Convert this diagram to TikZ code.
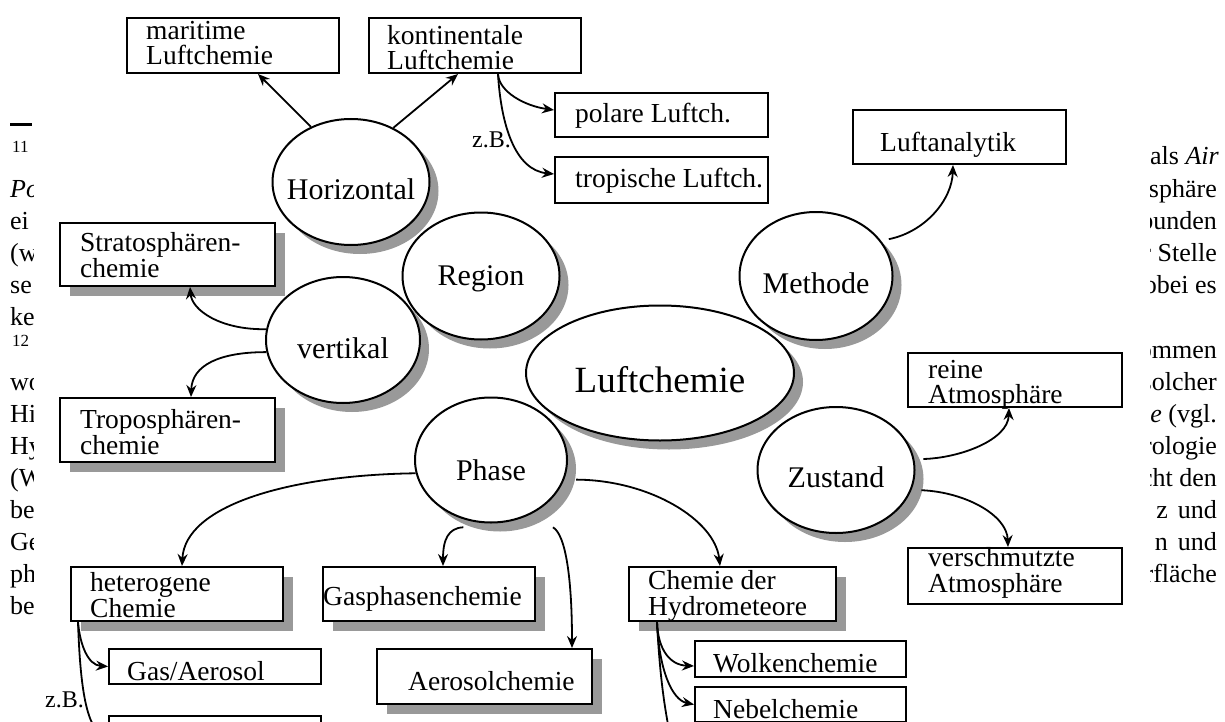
\documentclass[tikz,border=0pt]{standalone}
\usepackage{fontspec}
\setmainfont{Liberation Serif}
\usetikzlibrary{shapes.geometric,shadows,arrows.meta}
\definecolor{shd}{RGB}{153,153,153}
\newcommand\ellt[2]{\raisebox{-#1pt}[0pt][0pt]{\makebox[0pt]{#2}}}
\newcommand\twol[3]{\vtop{\baselineskip=#1pt\lineskiplimit=-100pt\lineskip=0pt\hbox{#2}\hbox{#3}}}
\begin{document}
\begin{tikzpicture}[x=1pt,y=-1pt,
  ell/.style={ellipse, draw, line width=2pt, fill=white, inner sep=0pt,
    font=\fontsize{30}{36}\selectfont,
    drop shadow={shadow xshift=9pt, shadow yshift=-9pt, fill=shd, opacity=1}},
  rbox/.style={rectangle, draw, line width=2pt, fill=white, inner sep=0pt, anchor=north west},
  sbox/.style={rbox, drop shadow={shadow xshift=10pt, shadow yshift=-10pt, fill=shd, opacity=1}},
  btxt/.style={inner sep=0pt, anchor=base west, font=\fontsize{27.5}{24}\selectfont},
  ptxt/.style={inner sep=0pt, font=\fontsize{26}{32}\selectfont},
  smtxt/.style={inner sep=0pt, anchor=base west, font=\fontsize{17}{20}\selectfont},
  conn/.style={line width=1.8pt, -{Stealth[length=12pt,width=10pt,inset=4pt]}},
  lbl/.style={inner sep=0pt, anchor=base west, font=\fontsize{24}{28}\selectfont},
]
\useasboundingbox (0,0) rectangle (1225,722);
\clip (0,0) rectangle (1225,722);
\fill[white] (0,0) rectangle (1225,722);

% page text fragments (left)
\begin{scope}
\clip (0,0) rectangle (33,722);
\draw[line width=3pt] (10,125) -- (32,125);
\node[smtxt] (fn11) at (12,153) {11};
\node[smtxt] (fn12) at (12,346) {12};
\node[ptxt,anchor=base west] (l0) at (10,197) {\textit{Po}};
\node[ptxt,anchor=base west] (l1) at (10,229) {ei};
\node[ptxt,anchor=base west] (l2) at (10,261) {(w};
\node[ptxt,anchor=base west] (l3) at (10,293) {se};
\node[ptxt,anchor=base west] (l4) at (10,325) {ke};
\node[ptxt,anchor=base west] (l6) at (10,390) {wo};
\node[ptxt,anchor=base west] (l7) at (10,422) {Hi};
\node[ptxt,anchor=base west] (l8) at (10,454) {Hy};
\node[ptxt,anchor=base west] (l9) at (10,486) {(W};
\node[ptxt,anchor=base west] (l10) at (10,518) {be};
\node[ptxt,anchor=base west] (l11) at (10,550) {Ge};
\node[ptxt,anchor=base west] (l12) at (10,582) {ph};
\node[ptxt,anchor=base west] (l13) at (10,614) {be};
\end{scope}
% page text fragments (right)
\begin{scope}
\clip (1150,0) rectangle (1225,722);
\node[ptxt,anchor=base east] (r0) at (1219,165) {als \textit{Air}};
\node[ptxt,anchor=base east] (r1) at (1217,197) {osphäre};
\node[ptxt,anchor=base east] (r2) at (1217,229) {bunden};
\node[ptxt,anchor=base east] (r3) at (1217,261) {r Stelle};
\node[ptxt,anchor=base east] (r4) at (1217,293) {obei es};
\node[ptxt,anchor=base east] (r5) at (1217,358) {ommen};
\node[ptxt,anchor=base east] (r6) at (1217,390) {solcher};
\node[ptxt,anchor=base east] (r7) at (1217,422) {\textit{ie} (vgl.};
\node[ptxt,anchor=base east] (r8) at (1217,454) {rologie};
\node[ptxt,anchor=base east] (r9) at (1217,486) {cht den};
\node[ptxt,anchor=base east] (r10) at (1217,518) {z\hspace{10pt}und};
\node[ptxt,anchor=base east] (r11) at (1217,550) {n\hspace{10pt}und};
\node[ptxt,anchor=base east] (r12) at (1217,582) {rfläche};
\end{scope}

% ellipses
\node[ell, minimum width=157pt, minimum height=126pt] (horiz) at (351,182) {\ellt{18}{Horizontal}};
\node[ell, minimum width=157pt, minimum height=127pt] (region) at (481,276) {\ellt{9.5}{Region}};
\node[ell, minimum width=154pt, minimum height=126pt] (vert) at (343,340) {\ellt{18}{vertikal}};
\node[ell, minimum width=153pt, minimum height=128pt] (meth) at (816,276) {\ellt{17}{Methode}};
\node[ell, minimum width=268pt, minimum height=135pt, font=\fontsize{37}{44}\selectfont] (luft) at (660,373) {\ellt{19}{Luftchemie}};
\node[ell, minimum width=152pt, minimum height=125pt] (phase) at (491,460) {\ellt{20}{Phase}};
\node[ell, minimum width=157pt, minimum height=126pt] (zust) at (836,470) {\ellt{17}{Zustand}};

% boxes without shadow
\node[rbox, minimum width=212pt, minimum height=55pt] (mar) at (126,17) {};
\node[rbox, minimum width=212pt, minimum height=55pt] (kont) at (368,17) {};
\node[rbox, minimum width=213pt, minimum height=44pt] (pol) at (554,92) {};
\node[rbox, minimum width=213pt, minimum height=46pt] (trop) at (554,156) {};
\node[rbox, minimum width=213pt, minimum height=54pt] (lana) at (852,109) {};
\node[rbox, minimum width=214pt, minimum height=54pt] (reine) at (907,352) {};
\node[rbox, minimum width=214pt, minimum height=56pt] (versch) at (907,547) {};
\node[rbox, minimum width=212pt, minimum height=35pt] (gasaer) at (108,648) {};
\node[rbox, minimum width=212pt, minimum height=45pt] (below) at (108,715) {};
\node[rbox, minimum width=211pt, minimum height=36pt] (wolk) at (694,640) {};
\node[rbox, minimum width=211pt, minimum height=35pt] (nebel) at (694,686) {};
% boxes with shadow
\node[sbox, minimum width=215pt, minimum height=63pt] (strat) at (59,222) {};
\node[sbox, minimum width=215pt, minimum height=64pt] (trpo) at (59,397) {};
\node[sbox, minimum width=212pt, minimum height=54pt] (hetero) at (70,566) {};
\node[sbox, minimum width=212pt, minimum height=54pt] (gasph) at (322,566) {};
\node[sbox, minimum width=215pt, minimum height=55pt] (aero) at (376,648) {};
\node[sbox, minimum width=207pt, minimum height=54pt] (hydro) at (628,566) {};

% box texts
\node[btxt] (mar-t) at (146,40) {\twol{25}{maritime}{Luftchemie}};
\node[btxt] (kont-t) at (387,45) {\twol{25}{kontinentale}{Luftchemie}};
\node[btxt] (pol-t) at (575,123) {polare Luftch.};
\node[btxt] (trop-t) at (575,188) {tropische Luftch.};
\node[btxt] (lana-t) at (880,152) {Luftanalytik};
\node[btxt] (strat-t) at (80,251) {\twol{26}{Stratosphären-}{chemie}};
\node[btxt] (trpo-t) at (80,428) {\twol{26}{Troposphären-}{chemie}};
\node[btxt] (reine-t) at (928,378) {\twol{25.5}{reine}{Atmosphäre}};
\node[btxt] (versch-t) at (928,566) {\twol{26}{verschmutzte}{Atmosphäre}};
\node[btxt] (hetero-t) at (90,591) {\twol{26}{heterogene}{Chemie}};
\node[btxt] (gasph-t) at (323,605) {Gasphasenchemie};
\node[btxt] (aero-t) at (408,690) {Aerosolchemie};
\node[btxt] (hydro-t) at (648,589) {\twol{26}{Chemie der}{Hydrometeore}};
\node[btxt] (gasaer-t) at (127,680) {Gas/Aerosol};
\node[btxt] (wolk-t) at (713,672) {Wolkenchemie};
\node[btxt] (nebel-t) at (713,718) {Nebelchemie};

% labels
\node[lbl] (zb1) at (472,148) {z.B.};
\node[lbl] (zb2) at (45,707) {z.B.};

% connectors
\draw[conn] (horiz.126) -- ([xshift=132pt]mar.south west);
\draw[conn] (horiz.52) -- ([xshift=90pt]kont.south west);
\draw[conn] ([xshift=130pt]kont.south west) .. controls (499,92) and (525,106) .. ([yshift=5pt]pol.west);
\draw[conn] ([xshift=130pt]kont.south west) .. controls (501,125) and (515,170) .. ([yshift=6pt]trop.west);
\draw[conn] ([xshift=9pt]meth.30) .. controls (925,232) and (952,200) .. ([xshift=101pt]lana.south west);
\draw[conn] (vert.172) .. controls (220,330) and (192,310) .. ([xshift=131pt]strat.south west);
\draw[conn] (vert.189) .. controls (220,352) and (192,365) .. ([xshift=132pt]trpo.north west);
\draw[conn] ([xshift=9pt]zust.8) .. controls (960,458) and (1008,440) .. ([xshift=102pt]reine.south west);
\draw[conn] ([xshift=10pt]zust.-15) .. controls (965,492) and (1007,515) .. ([xshift=101pt]versch.north west);
\draw[conn] (phase.190) .. controls (290,475) and (185,505) .. ([xshift=112pt]hetero.north west);
\draw[conn] ([yshift=-8pt]phase.245) .. controls (448,528) and (443,540) .. ([xshift=121pt]gasph.north west);
\draw[conn] ([xshift=8pt,yshift=-22pt]phase.320) .. controls (566,535) and (572,580) .. ([xshift=196pt]aero.north west);
\draw[conn] ([xshift=12pt]phase.-15) .. controls (650,480) and (715,520) .. ([xshift=92pt]hydro.north west);
\draw[conn] ([xshift=29pt]hydro.south west) .. controls (658,650) and (670,665) .. ([yshift=-7pt]wolk.west);
\draw[conn] ([xshift=29pt]hydro.south west) .. controls (659,670) and (672,700) .. (nebel.west);
\coordinate (hydro-c) at (672,745);
\draw[conn] ([xshift=29pt]hydro.south west) .. controls (660,680) and (665,710) .. (hydro-c);
\draw[conn] ([xshift=8pt]hetero.south west) .. controls (80,645) and (88,665) .. (gasaer.west);
\draw[conn] ([xshift=8pt]hetero.south west) .. controls (80,680) and (85,725) .. (below.west);
\end{tikzpicture}
\end{document}
